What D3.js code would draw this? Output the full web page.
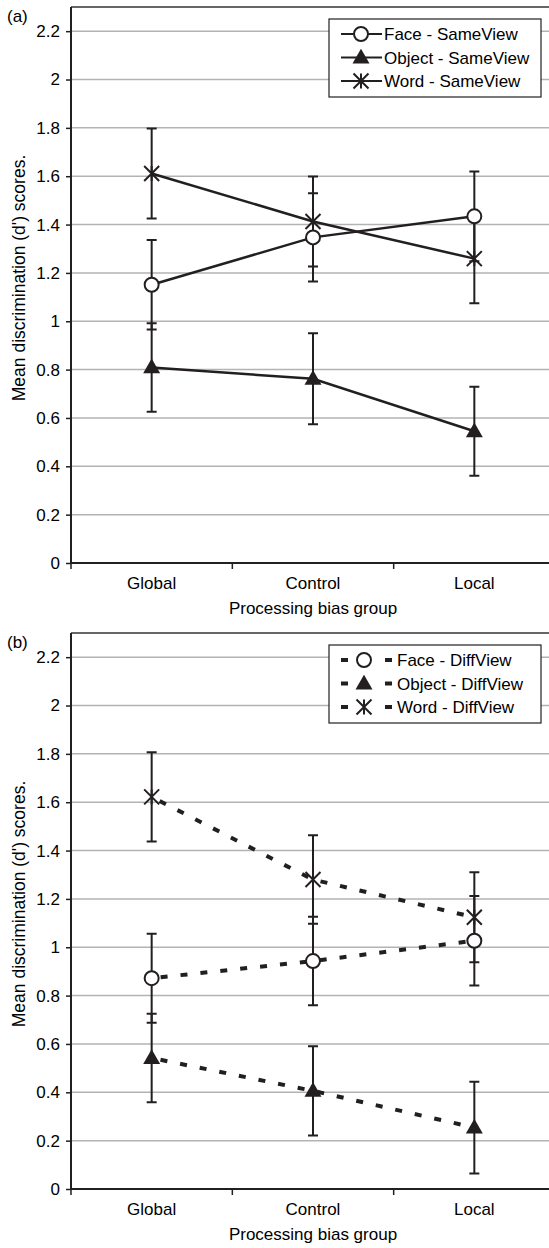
<!DOCTYPE html>
<html><head><meta charset="utf-8">
<script src="https://cdn.jsdelivr.net/npm/d3@7"></script>
<style>
html,body{margin:0;padding:0;background:#fff;}
svg{display:block;font-family:"Liberation Sans",Arial,sans-serif;}
</style></head>
<body>
<script>
const categories = ["Global", "Control", "Local"];
const yTicks = [0, 0.2, 0.4, 0.6, 0.8, 1, 1.2, 1.4, 1.6, 1.8, 2, 2.2];

// Panel (a) SameView
const faceSame = [1.151, 1.347, 1.434];
const faceSameErr = [0.185, 0.183, 0.186];
const objectSame = [0.809, 0.762, 0.545];
const objectSameErr = [0.183, 0.188, 0.184];
const wordSame = [1.611, 1.413, 1.259];
const wordSameErr = [0.186, 0.186, 0.184];

// Panel (b) DiffView
const faceDiff = [0.872, 0.943, 1.027];
const faceDiffErr = [0.184, 0.183, 0.185];
const objectDiff = [0.542, 0.406, 0.254];
const objectDiffErr = [0.183, 0.185, 0.19];
const wordDiff = [1.622, 1.280, 1.124];
const wordDiffErr = [0.185, 0.183, 0.186];

const W = 549, H = 1248;
const svg = d3.select("body").append("svg").attr("width", W).attr("height", H);
const FS = 17;
const ink = "#231f20";

function marker(g, type, x, y) {
  if (type === "circle") {
    g.append("circle").attr("cx", x).attr("cy", y).attr("r", 7)
      .attr("fill", "#fff").attr("stroke", ink).attr("stroke-width", 2);
  } else if (type === "triangle") {
    g.append("path").attr("d", d3.symbol().type(d3.symbolTriangle).size(125)())
      .attr("transform", `translate(${x},${y+1})`).attr("fill", ink);
  } else {
    const s = 7.5;
    g.append("path")
      .attr("d", `M${x-s},${y-s}L${x+s},${y+s}M${x-s},${y+s}L${x+s},${y-s}M${x},${y-s}L${x},${y+s}`)
      .attr("stroke", ink).attr("stroke-width", 2).attr("fill", "none");
  }
}

function panel(offY, label, series, dashed, legendTextX) {
  const g = svg.append("g").attr("transform", `translate(0,${offY})`);
  const x = d3.scaleBand().domain(categories).range([71, 555]);
  const y = d3.scaleLinear().domain([0, 2.3]).range([563, 7]);

  // gridlines
  g.append("g").selectAll("line").data(yTicks.filter(d => d > 0)).join("line")
    .attr("x1", 71).attr("x2", W).attr("y1", d => y(d)).attr("y2", d => y(d))
    .attr("stroke", "#b3b3b3").attr("stroke-width", 1.5);
  // top border
  g.append("line").attr("x1", 71).attr("x2", W).attr("y1", y(2.3)).attr("y2", y(2.3))
    .attr("stroke", "#333").attr("stroke-width", 1.5);

  // y axis
  const ya = g.append("g").attr("transform", "translate(71,0)")
    .call(d3.axisLeft(y).tickValues(yTicks).tickSize(5).tickPadding(6).tickFormat(d3.format("~g")));
  ya.select(".domain").attr("d", `M0,${y(2.3)}V${y(0)}`).attr("stroke", ink).attr("stroke-width", 2);
  ya.selectAll(".tick line").attr("stroke", ink).attr("stroke-width", 1.5);
  ya.selectAll("text").attr("font-size", FS).attr("fill", "#000").attr("font-family", "Liberation Sans, Arial, sans-serif");

  // x axis
  const xa = g.append("g").attr("transform", `translate(0,${y(0)})`);
  xa.append("line").attr("x1", 71).attr("x2", W).attr("stroke", ink).attr("stroke-width", 2);
  const bounds = [0, 1, 2, 3].map(i => 71 + i * x.step());
  xa.selectAll("line.t").data(bounds).join("line").attr("class", "t")
    .attr("x1", d => d).attr("x2", d => d).attr("y1", 0).attr("y2", 6)
    .attr("stroke", ink).attr("stroke-width", 1.5);
  xa.selectAll("text").data(categories).join("text")
    .attr("x", d => x(d) + x.bandwidth() / 2).attr("y", 26)
    .attr("text-anchor", "middle").attr("font-size", FS).text(d => d);

  g.append("text").attr("x", 313).attr("y", 614).attr("text-anchor", "middle")
    .attr("font-size", FS).text("Processing bias group");
  g.append("text").attr("transform", "translate(25,278) rotate(-90)")
    .attr("text-anchor", "middle").attr("font-size", 17.5).text("Mean discrimination (d') scores.");
  g.append("text").attr("x", 7).attr("y", 22).attr("font-size", FS).text(label);

  const cx = c => x(c) + x.bandwidth() / 2;

  // error bars
  series.forEach(s => {
    s.values.forEach((v, i) => {
      const xc = cx(categories[i]);
      const e = s.err[i];
      g.append("path")
        .attr("d", `M${xc},${y(v - e)}V${y(v + e)}M${xc - 5},${y(v - e)}H${xc + 5}M${xc - 5},${y(v + e)}H${xc + 5}`)
        .attr("stroke", ink).attr("stroke-width", 2).attr("fill", "none");
    });
  });
  // lines
  const lineGen = d3.line().x((d, i) => cx(categories[i])).y(d => y(d));
  series.forEach(s => {
    const p = g.append("path").attr("d", lineGen(s.values)).attr("fill", "none")
      .attr("stroke", ink);
    if (dashed) p.attr("stroke-width", 4).attr("stroke-dasharray", "7,13").attr("stroke-dashoffset", -9);
    else p.attr("stroke-width", 2.5);
  });
  // markers
  series.forEach(s => {
    s.values.forEach((v, i) => marker(g, s.type, cx(categories[i]), y(v)));
  });

  // legend
  const lg = g.append("g");
  lg.append("rect").attr("x", 329).attr("y", 19).attr("width", 212).attr("height", 78)
    .attr("fill", "#fff").attr("stroke", ink).attr("stroke-width", 1.2);
  series.forEach((s, i) => {
    const ry = 34 + i * 23.5;
    if (dashed) {
      lg.append("path").attr("d", `M341,${ry}H348M385,${ry}H392`).attr("stroke", ink).attr("stroke-width", 4);
      marker(lg, s.type, 364, ry);
    } else {
      lg.append("line").attr("x1", 341).attr("x2", 382).attr("y1", ry).attr("y2", ry)
        .attr("stroke", ink).attr("stroke-width", 2);
      marker(lg, s.type, 361, ry);
    }
    lg.append("text").attr("x", legendTextX).attr("y", ry + 6).attr("font-size", FS).text(s.name);
  });
}

panel(0, "(a)", [
  {name: "Face - SameView", values: faceSame, err: faceSameErr, type: "circle"},
  {name: "Object - SameView", values: objectSame, err: objectSameErr, type: "triangle"},
  {name: "Word - SameView", values: wordSame, err: wordSameErr, type: "star"}
], false, 384);

panel(626, "(b)", [
  {name: "Face - DiffView", values: faceDiff, err: faceDiffErr, type: "circle"},
  {name: "Object - DiffView", values: objectDiff, err: objectDiffErr, type: "triangle"},
  {name: "Word - DiffView", values: wordDiff, err: wordDiffErr, type: "star"}
], true, 397);
</script>
</body></html>
